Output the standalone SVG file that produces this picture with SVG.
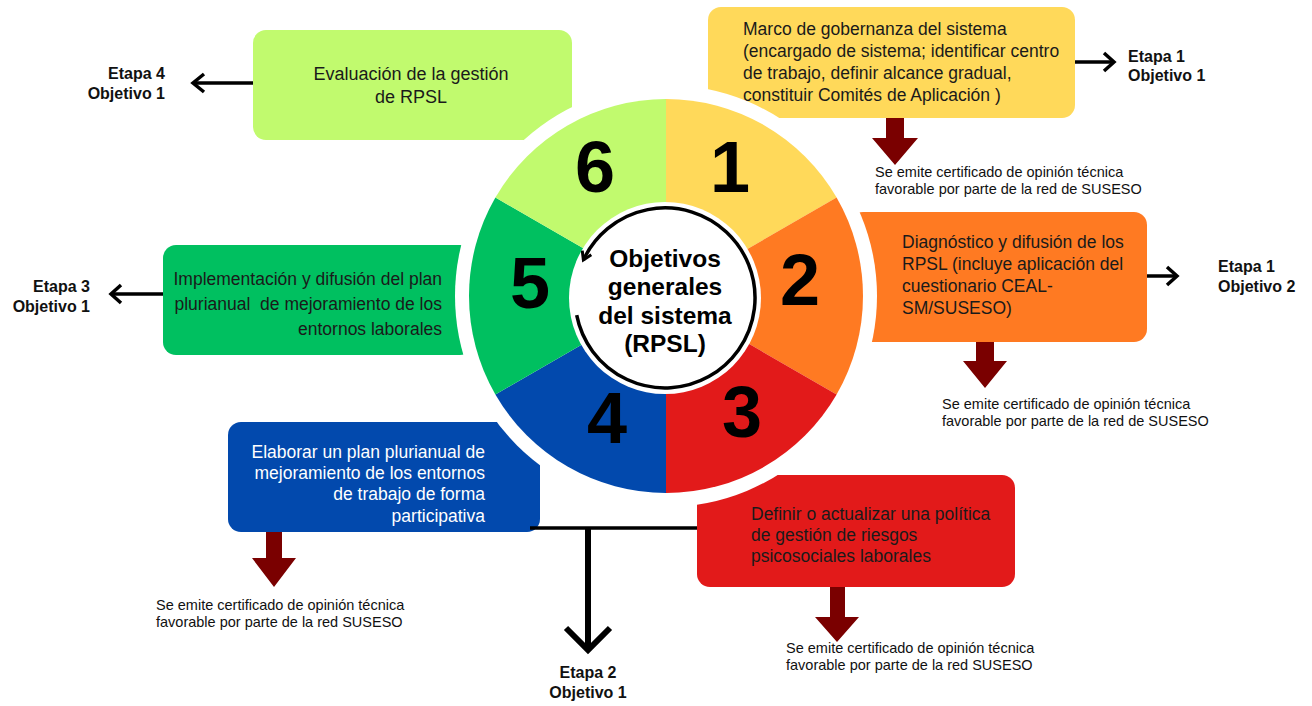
<svg xmlns="http://www.w3.org/2000/svg" width="1312" height="706" viewBox="0 0 1312 706">
<defs>
<style>
.bx{font-family:"Liberation Sans",Arial,sans-serif;font-size:17.5px;fill:#1a1a1a}
.wt{fill:#ffffff}
.et{font-family:"Liberation Sans",Arial,sans-serif;font-size:16px;font-weight:bold;fill:#111}
.se{font-family:"Liberation Sans",Arial,sans-serif;font-size:14.5px;fill:#111}
.num{font-family:"Liberation Sans",Arial,sans-serif;font-size:72px;font-weight:bold;fill:#000;text-anchor:middle}
.ctr{font-family:"Liberation Sans",Arial,sans-serif;font-size:24.5px;font-weight:bold;fill:#000;text-anchor:middle}
.ln{fill:none;stroke:#000;stroke-width:3.5;stroke-linecap:butt;stroke-linejoin:miter}
.dr{fill:#7a0000}
</style>
<marker id="arc-head" markerWidth="12" markerHeight="12" refX="9" refY="6" orient="auto" markerUnits="userSpaceOnUse">
<path d="M1,1 L9,6 L1,11" fill="none" stroke="#000" stroke-width="3"/>
</marker>
</defs>

<g id="box6">
<rect x="253" y="30" width="319" height="110" rx="13" fill="#c1fa6e"/>
<text class="bx" x="411" y="80" text-anchor="middle" style="font-size:18px">Evaluación de la gestión</text>
<text class="bx" x="411" y="103" text-anchor="middle" style="font-size:18px">de RPSL</text>
</g>

<g id="box1">
<rect x="708" y="7" width="367" height="111" rx="13" fill="#ffd95a"/>
<text class="bx" x="743" y="35">Marco de gobernanza del sistema</text>
<text class="bx" x="743" y="57">(encargado de sistema; identificar centro</text>
<text class="bx" x="743" y="79">de trabajo, definir alcance gradual,</text>
<text class="bx" x="743" y="101">constituir Comités de Aplicación )</text>
</g>

<g id="box2">
<rect x="850" y="212" width="297" height="130" rx="13" fill="#ff7a22"/>
<text class="bx" x="902" y="248">Diagnóstico y difusión de los</text>
<text class="bx" x="902" y="270">RPSL (incluye aplicación del</text>
<text class="bx" x="902" y="292">cuestionario CEAL-</text>
<text class="bx" x="902" y="314">SM/SUSESO)</text>
</g>

<g id="box5">
<rect x="163" y="245" width="310" height="110" rx="13" fill="#00c060"/>
<text class="bx" x="442" y="285" text-anchor="end">Implementación y difusión del plan</text>
<text class="bx" x="442" y="310" text-anchor="end" xml:space="preserve">plurianual  de mejoramiento de los</text>
<text class="bx" x="442" y="335" text-anchor="end">entornos laborales</text>
</g>

<g id="box4">
<rect x="228" y="422" width="312" height="110" rx="13" fill="#0249ad"/>
<text class="bx wt" x="485" y="458" text-anchor="end">Elaborar un plan plurianual de</text>
<text class="bx wt" x="485" y="479" text-anchor="end">mejoramiento de los entornos</text>
<text class="bx wt" x="485" y="500" text-anchor="end">de trabajo de forma</text>
<text class="bx wt" x="485" y="522" text-anchor="end">participativa</text>
</g>

<g id="connectors">
<path class="ln" d="M530,528 H700" stroke-width="4"/>
<path class="ln" d="M588,528 V650" style="stroke-width:6"/>
<path class="ln" d="M566,628 L588,650 L610,628" style="stroke-width:6"/>
<path class="ln" d="M253,83 H193"/>
<path class="ln" d="M204,74 L193,83 L204,92"/>
<path class="ln" d="M1075,62 H1114"/>
<path class="ln" d="M1104,53 L1114,62 L1104,71"/>
<path class="ln" d="M1147,276 H1177"/>
<path class="ln" d="M1167,267 L1177,276 L1167,285"/>
<path class="ln" d="M163,294 H111"/>
<path class="ln" d="M121,285 L111,294 L121,303"/>
<polygon class="dr" points="886,118 904,118 904,138 918,138 895,165 872,138 886,138"/>
<polygon class="dr" points="976,342 994,342 994,361 1007,361 985,388 963,361 976,361"/>
<polygon class="dr" points="266,532 282,532 282,558 296,558 274,587 252,558 266,558"/>
<polygon class="dr" points="830,587 845,587 845,617 859,617 837,642 815,617 830,617"/>
</g>

<g id="box3">
<rect x="697" y="475" width="318" height="112" rx="13" fill="#e21a1a"/>
<text class="bx" x="751" y="520">Definir o actualizar una política</text>
<text class="bx" x="751" y="541">de gestión de riesgos</text>
<text class="bx" x="751" y="562">psicosociales laborales</text>
</g>

<g id="wheel">
<circle cx="666" cy="296" r="211" fill="#ffffff"/>
<path d="M666,296 L666,99 A197,197 0 0 1 836.6,197.5 Z" fill="#ffd95a"/>
<path d="M666,296 L836.6,197.5 A197,197 0 0 1 836.6,394.5 Z" fill="#ff7a22"/>
<path d="M666,296 L836.6,394.5 A197,197 0 0 1 666,493 Z" fill="#e21a1a"/>
<path d="M666,296 L666,493 A197,197 0 0 1 495.4,394.5 Z" fill="#0249ad"/>
<path d="M666,296 L495.4,394.5 A197,197 0 0 1 495.4,197.5 Z" fill="#00c060"/>
<path d="M666,296 L495.4,197.5 A197,197 0 0 1 666,99 Z" fill="#c1fa6e"/>
<text class="num" x="730" y="192">1</text>
<text class="num" x="800" y="305">2</text>
<text class="num" x="742" y="437">3</text>
<text class="num" x="607" y="443">4</text>
<text class="num" x="530" y="308">5</text>
<text class="num" x="595" y="192">6</text>
<circle cx="665" cy="298" r="96" fill="#ffffff"/>
<path d="M576.7,315.2 A90,90 0 1 0 583.4,260" fill="none" stroke="#000" stroke-width="3.5" marker-end="url(#arc-head)"/>
<text class="ctr" x="665" y="267">Objetivos</text>
<text class="ctr" x="665" y="295">generales</text>
<text class="ctr" x="665" y="324">del sistema</text>
<text class="ctr" x="665" y="352">(RPSL)</text>
</g>

<g id="labels">
<text class="et" x="165" y="79" text-anchor="end">Etapa 4</text>
<text class="et" x="165" y="99" text-anchor="end">Objetivo 1</text>
<text class="et" x="1128" y="62">Etapa 1</text>
<text class="et" x="1128" y="81">Objetivo 1</text>
<text class="et" x="1218" y="272">Etapa 1</text>
<text class="et" x="1218" y="292">Objetivo 2</text>
<text class="et" x="90" y="292" text-anchor="end">Etapa 3</text>
<text class="et" x="90" y="312" text-anchor="end">Objetivo 1</text>
<text class="et" x="588" y="678" text-anchor="middle">Etapa 2</text>
<text class="et" x="588" y="698" text-anchor="middle">Objetivo 1</text>
<text class="se" x="875" y="177">Se emite certificado de opinión técnica</text>
<text class="se" x="875" y="194">favorable por parte de la red de SUSESO</text>
<text class="se" x="942" y="409">Se emite certificado de opinión técnica</text>
<text class="se" x="942" y="426">favorable por parte de la red de SUSESO</text>
<text class="se" x="156" y="610">Se emite certificado de opinión técnica</text>
<text class="se" x="156" y="627">favorable por parte de la red SUSESO</text>
<text class="se" x="786" y="653">Se emite certificado de opinión técnica</text>
<text class="se" x="786" y="670">favorable por parte de la red SUSESO</text>
</g>
</svg>
